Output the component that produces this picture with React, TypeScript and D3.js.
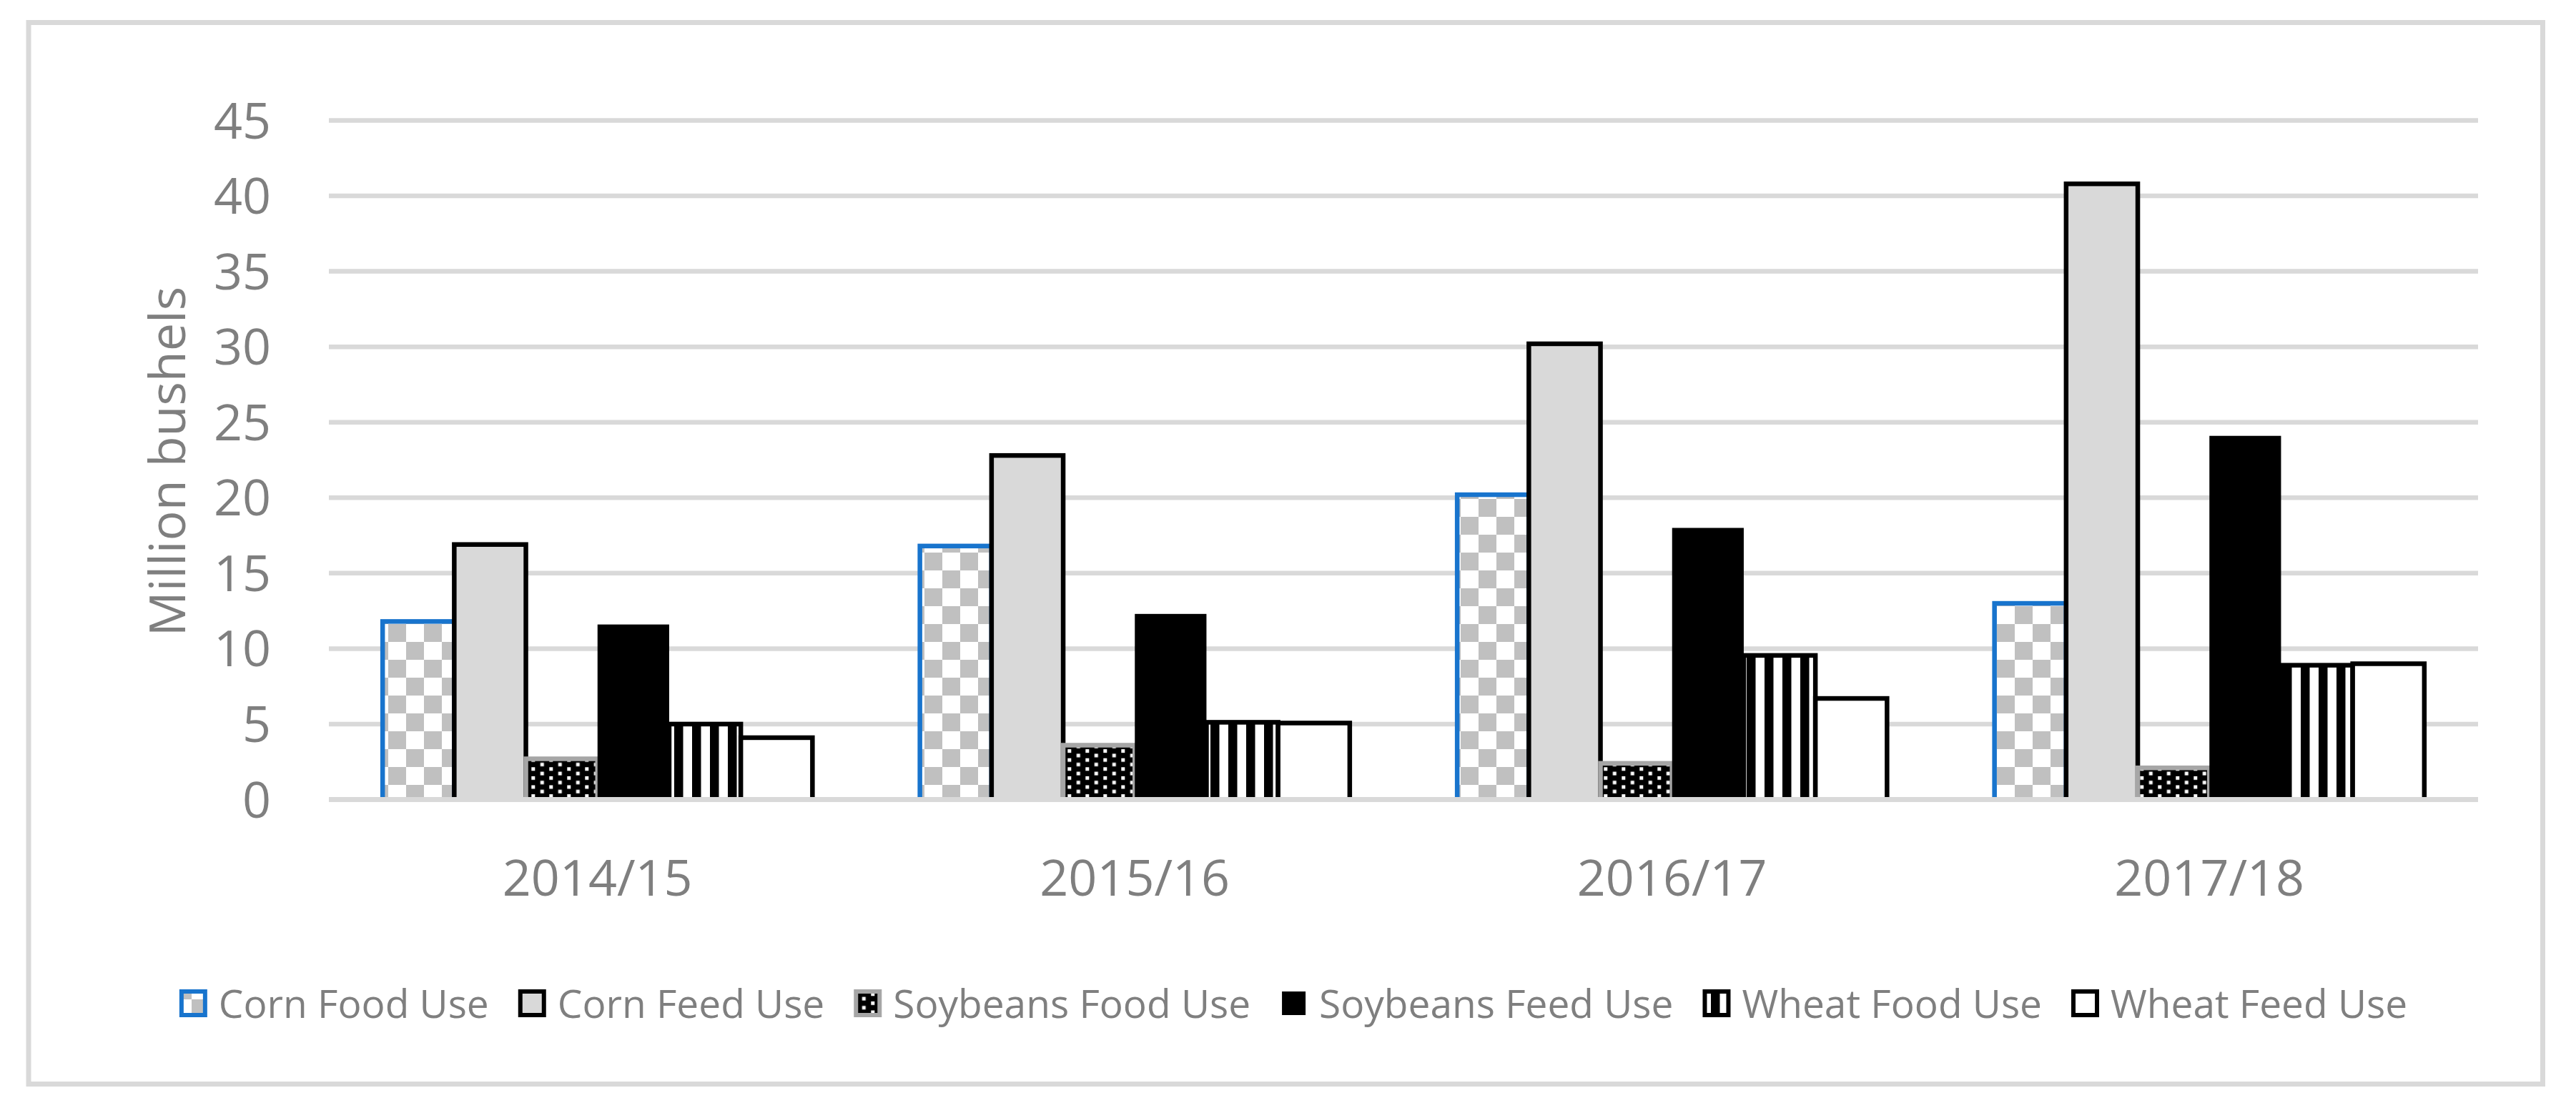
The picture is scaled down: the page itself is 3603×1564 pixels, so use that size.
import React from 'react';
import * as d3 from 'd3';

const categories = ['2014/15', '2015/16', '2016/17', '2017/18'];
const seriesNames = ['Corn Food Use', 'Corn Feed Use', 'Soybeans Food Use', 'Soybeans Feed Use', 'Wheat Food Use', 'Wheat Feed Use'];
const cornFood = [11.8, 16.8, 20.2, 13.0];
const cornFeed = [16.9, 22.8, 30.2, 40.8];
const soyFood = [2.7, 3.6, 2.4, 2.1];
const soyFeed = [11.6, 12.3, 18.0, 24.1];
const wheatFood = [5.0, 5.12, 9.55, 8.9];
const wheatFeed = [4.1, 5.07, 6.7, 9.0];
const yTicks = [0, 5, 10, 15, 20, 25, 30, 35, 40, 45];
const yTitle = 'Million bushels';

const seriesValues = [cornFood, cornFeed, soyFood, soyFeed, wheatFood, wheatFeed];

const styles = [
  { fill: 'url(#checker)', stroke: '#1874cd' },
  { fill: '#d9d9d9', stroke: '#000000' },
  { fill: 'url(#dots)', stroke: '#a6a6a6' },
  { fill: '#000000', stroke: 'none' },
  { fill: 'url(#stripes)', stroke: '#000000' },
  { fill: '#ffffff', stroke: '#000000' },
];

const W = 3603;
const H = 1564;
const FONT = '"Open Sans", "Noto Sans", sans-serif';
const TEXT = '#7f7f7f';
const GRID = '#d9d9d9';

function measure(text: string, size: number): number {
  const c = document.createElement('canvas');
  const ctx = c.getContext('2d');
  if (!ctx) return text.length * size * 0.5;
  ctx.font = `${size}px ${FONT}`;
  return ctx.measureText(text).width;
}

export default function App() {
  const plot = { left: 460, right: 3466, top: 168.5, bottom: 1118.5 };
  const y = d3.scaleLinear().domain([0, 45]).range([plot.bottom, plot.top]);
  const x0 = d3.scaleBand<string>().domain(categories).range([plot.left, plot.right]).padding(0);
  const x1 = d3
    .scaleBand<string>()
    .domain(seriesNames)
    .range([0, x0.bandwidth()])
    .paddingInner(0)
    .paddingOuter(0.75);

  const legendSize = 55;
  const sym = 39;
  const symGap = 16;
  const itemGap = 41;
  const widths = seriesNames.map((s) => measure(s, legendSize));
  const total = widths.reduce((a, b) => a + b, 0) + seriesNames.length * (sym + symGap) + (seriesNames.length - 1) * itemGap;
  let lx = 1809 - total / 2;
  const legendItems = seriesNames.map((s, i) => {
    const item = { name: s, x: lx, i };
    lx += sym + symGap + widths[i] + itemGap;
    return item;
  });

  return (
    <svg
      width={W}
      height={H}
      style={{ position: 'absolute', left: 0, top: 0, display: 'block', background: '#fff' }}
      fontFamily={FONT}
    >
      <defs>
        <pattern id="checker" patternUnits="userSpaceOnUse" x={43} y={23} width={50} height={50}>
          <rect width={50} height={50} fill="#ffffff" />
          <rect x={0} y={0} width={25} height={25} fill="#c0c0c0" />
          <rect x={25} y={25} width={25} height={25} fill="#c0c0c0" />
        </pattern>
        <pattern id="dots" patternUnits="userSpaceOnUse" x={18.3} y={2.3} width={25} height={12.6}>
          <rect width={25} height={12.6} fill="#000000" />
          <rect x={0} y={0} width={5} height={5} fill="#ffffff" />
          <rect x={12.5} y={6.3} width={5} height={5} fill="#ffffff" />
        </pattern>
        <pattern id="stripes" patternUnits="userSpaceOnUse" x={18} y={0} width={25} height={25}>
          <rect width={25} height={25} fill="#ffffff" />
          <rect x={0} y={0} width={12.5} height={25} fill="#000000" />
        </pattern>
      </defs>

      <rect x={0} y={0} width={W} height={H} fill="#ffffff" />
      <rect x={40} y={31.5} width={3556.5 - 40} height={1516.5 - 31.5} fill="#ffffff" stroke={GRID} strokeWidth={7} />

      {/* gridlines */}
      {yTicks.filter((t) => t !== 0).map((t) => (
        <line key={t} x1={plot.left} x2={plot.right} y1={y(t)} y2={y(t)} stroke={GRID} strokeWidth={6.5} />
      ))}

      {/* y tick labels */}
      {yTicks.map((t) => (
        <text key={t} x={379} y={y(t) + 25} textAnchor="end" fontSize={70} fill={TEXT}>
          {t}
        </text>
      ))}

      {/* bars */}
      {categories.map((c, ci) => (
        <g key={c}>
          {seriesNames.map((s, si) => {
            const v = seriesValues[si][ci];
            const st = styles[si];
            return (
              <rect
                key={s}
                x={(x0(c) as number) + (x1(s) as number)}
                y={y(v)}
                width={x1.bandwidth()}
                height={y(0) - y(v)}
                fill={st.fill}
                stroke={st.stroke}
                strokeWidth={6.5}
              />
            );
          })}
        </g>
      ))}

      {/* baseline axis */}
      <line x1={plot.left} x2={plot.right} y1={y(0)} y2={y(0)} stroke={GRID} strokeWidth={7} />

      {/* category labels */}
      {categories.map((c) => (
        <text key={c} x={(x0(c) as number) + x0.bandwidth() / 2} y={1253} textAnchor="middle" fontSize={70} fill={TEXT}>
          {c}
        </text>
      ))}

      {/* y axis title */}
      <text transform={`translate(259, ${645.5}) rotate(-90)`} textAnchor="middle" fontSize={70} fill={TEXT}>
        {yTitle}
      </text>

      {/* legend */}
      {legendItems.map((it) => {
        const st = styles[it.i];
        return (
          <g key={it.name}>
            <rect
              x={it.x + 3}
              y={1384 + 3}
              width={sym - 6}
              height={sym - 6}
              fill={st.fill}
              stroke={st.stroke}
              strokeWidth={6}
            />
            <text x={it.x + sym + symGap} y={1424} fontSize={legendSize} fill={TEXT}>
              {it.name}
            </text>
          </g>
        );
      })}
    </svg>
  );
}
